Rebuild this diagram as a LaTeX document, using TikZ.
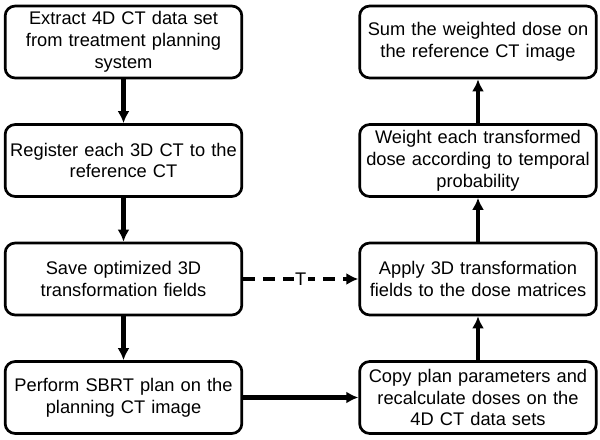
\documentclass[tikz,border=0pt]{standalone}
\usepackage{fontspec}
\setmainfont{Liberation Sans}
\usetikzlibrary{arrows.meta,arrows}
\begin{document}
\begin{tikzpicture}

\tikzset{block/.style = {shape=rectangle,draw,rounded corners=0.3cm,line width=2.3pt,minimum width=7.1cm,minimum height=2.16cm,text width=6.9cm,align=center,inner sep=0pt,font=\fontsize{15.6}{18.6}\selectfont}}
\tikzset{edge/.style = {->,> = {Latex[length=0.36cm,width=0.36cm]},line width=3.6pt}}

\useasboundingbox (0,0) rectangle (18,-13.2);

\node[block] (a) at (3.705,-1.26) {Extract 4D CT data set\\ from treatment planning\\ system};
\node[block] (b) at (3.705,-4.815) {Register each 3D CT to the\\ reference CT};
\node[block] (c) at (3.705,-8.37) {Save optimized 3D\\ transformation fields};
\node[block] (d) at (3.705,-11.925) {Perform SBRT plan on the\\ planning CT image};
\node[block] (e) at (14.34,-11.925) {Copy plan parameters and\\ recalculate doses on the\\ 4D CT data sets};
\node[block] (f) at (14.34,-8.37) {Apply 3D transformation\\ fields to the dose matrices};
\node[block] (g) at (14.34,-4.815) {Weight each transformed\\ dose according to temporal\\ probability};
\node[block] (h) at (14.34,-1.26) {Sum the weighted dose on\\ the reference CT image};
%edges
\draw[edge] (a) to (b);
\draw[edge] (b) to (c);
\draw[edge] (c) to (d);
\draw[edge] (d) to (e);
\draw[edge] (e) to (f);
\draw[edge] (f) to (g);
\draw[edge] (g) to (h);
\draw[edge,dash pattern=on 0.36cm off 0.24cm] (c) to node[fill=white,inner sep=1pt,font=\fontsize{15.6}{18}\selectfont]{T} (f);

\end{tikzpicture}
\end{document}
